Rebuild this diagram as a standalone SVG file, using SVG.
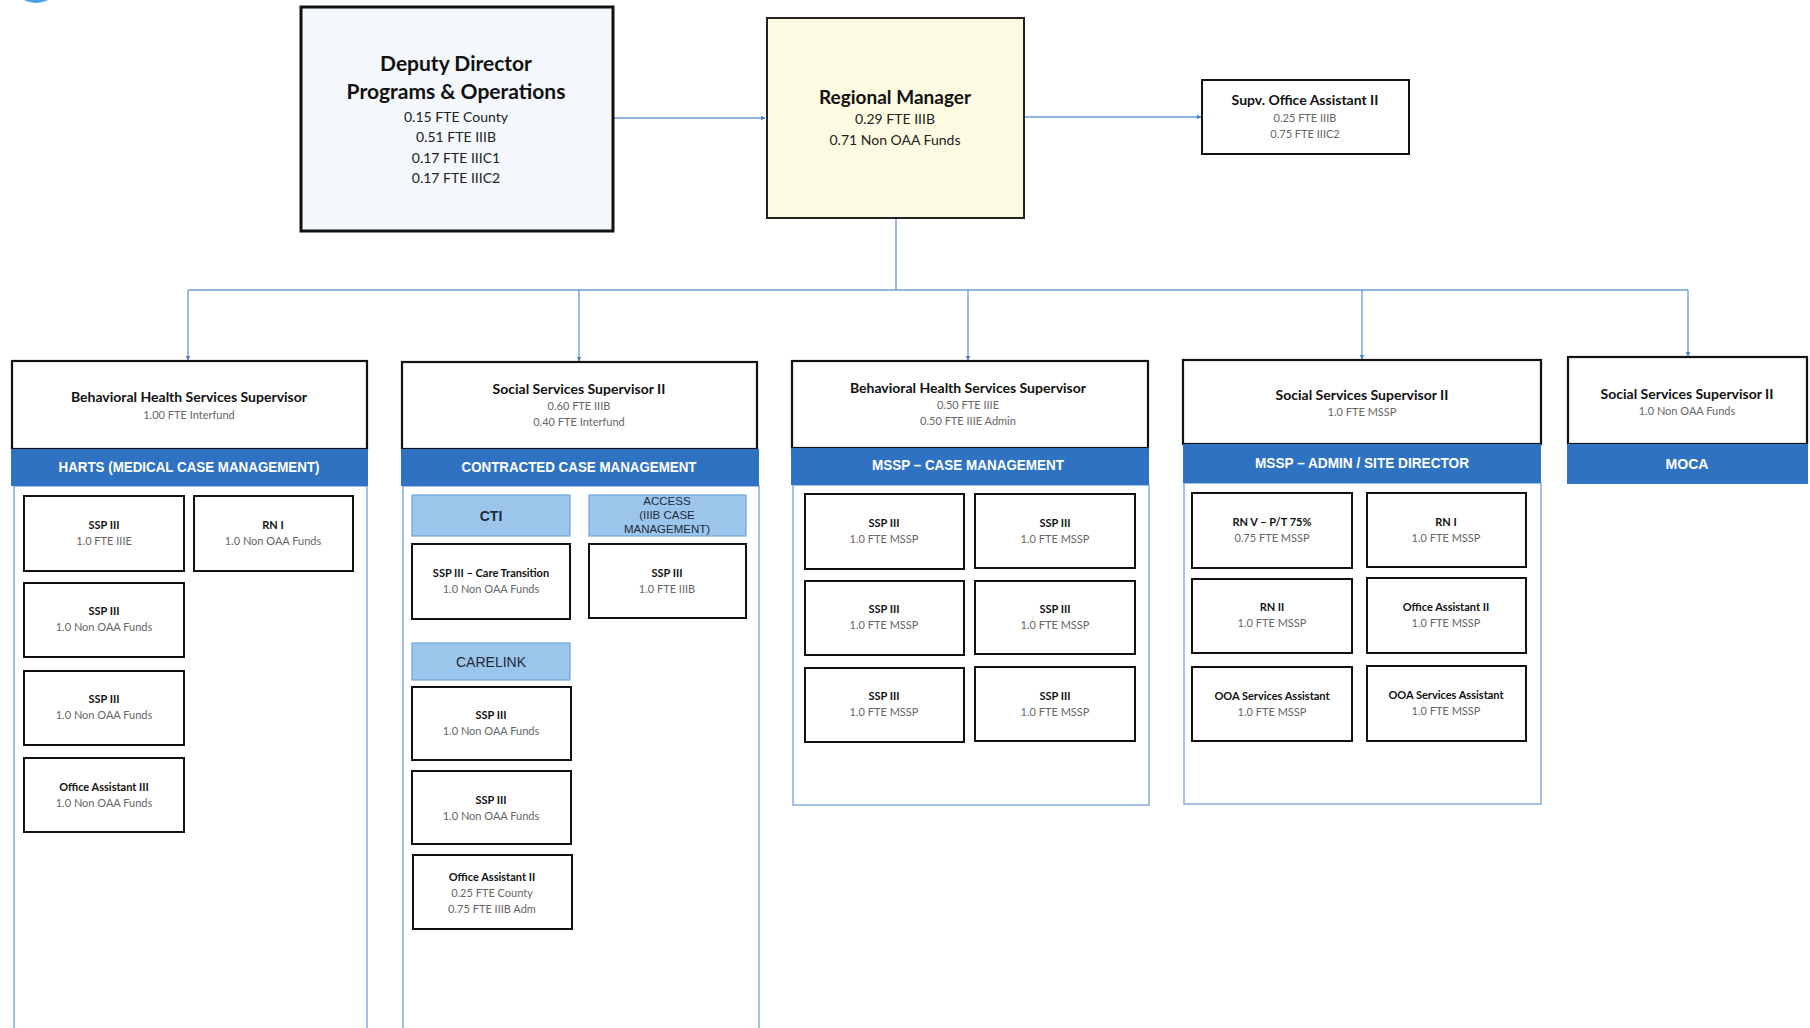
<svg xmlns="http://www.w3.org/2000/svg" width="1810" height="1028" viewBox="0 0 1810 1028">
<defs>
<marker id="ah" viewBox="0 0 10 10" refX="9" refY="5" markerWidth="5" markerHeight="5" orient="auto" markerUnits="userSpaceOnUse">
<path d="M0,0 L10,5 L0,10 z" fill="#4f7fc8"/>
</marker>
<style>
.big{stroke:#111;stroke-width:3}
.sup{fill:#fff;stroke:#111;stroke-width:2.2}
.box{fill:#fff;stroke:#111;stroke-width:2}
.cont{fill:none;stroke:#8eaee0;stroke-width:1.6}
.ban{fill:#2f72c2}
.hdr{fill:#9cc5eb;stroke:#6ea6dc;stroke-width:1.2}
.conn{fill:none;stroke:#6f9ddb;stroke-width:1.4}
text{font-family:Lato,"Open Sans","Liberation Sans",sans-serif;text-anchor:middle}
.t1{font-size:21px;font-weight:bold;fill:#111}
.s1{font-size:14px;fill:#222}
.t2{font-size:14px;font-weight:bold;fill:#111}
.s2{font-size:11px;fill:#666}
.bt{font-family:"Liberation Sans",Arial,sans-serif;font-size:14px;font-weight:bold;fill:#fff}
.ht{font-family:"Liberation Sans",Arial,sans-serif;font-size:14px;fill:#1d2a3a}
.it{font-size:11px;font-weight:bold;fill:#111}
.is{font-size:11px;fill:#666}
</style>
</defs>
<rect width="1810" height="1028" fill="#fff"/>
<ellipse cx="36" cy="-12" rx="20" ry="15" fill="#4c9fe3"/>

<g id="connectors">
<line class="conn" x1="613" y1="118" x2="765" y2="118" marker-end="url(#ah)"/>
<line class="conn" x1="1024" y1="117" x2="1201" y2="117" marker-end="url(#ah)"/>
<polyline class="conn" points="896,218 896,290"/>
<line class="conn" x1="188" y1="290" x2="1688" y2="290"/>
<line class="conn" x1="188" y1="290" x2="188" y2="360" marker-end="url(#ah)"/>
<line class="conn" x1="579" y1="290" x2="579" y2="361" marker-end="url(#ah)"/>
<line class="conn" x1="968" y1="290" x2="968" y2="360" marker-end="url(#ah)"/>
<line class="conn" x1="1362" y1="290" x2="1362" y2="359" marker-end="url(#ah)"/>
<line class="conn" x1="1688" y1="290" x2="1688" y2="356" marker-end="url(#ah)"/>
</g>

<g id="deputy-director">
<rect class="big" x="301" y="7" width="312" height="224" fill="#f4f7fb"/>
<text class="t1" x="456" y="71">Deputy Director</text>
<text class="t1" x="456" y="99">Programs &amp; Operations</text>
<text class="s1" x="456" y="122">0.15 FTE County</text>
<text class="s1" x="456" y="142">0.51 FTE IIIB</text>
<text class="s1" x="456" y="163">0.17 FTE IIIC1</text>
<text class="s1" x="456" y="183">0.17 FTE IIIC2</text>
</g>

<g id="regional-manager">
<rect x="767" y="18" width="257" height="200" fill="#fcfae1" stroke="#222" stroke-width="2"/>
<text x="895" y="104" style="font-size:19px;font-weight:bold;fill:#111">Regional Manager</text>
<text class="s1" x="895" y="124">0.29 FTE IIIB</text>
<text class="s1" x="895" y="145">0.71 Non OAA Funds</text>
</g>

<g id="supv-office-assistant">
<rect x="1202" y="80" width="207" height="74" fill="#fff" stroke="#111" stroke-width="2"/>
<text x="1305" y="105" style="font-size:14px;font-weight:bold;fill:#111">Supv. Office Assistant II</text>
<text class="s2" x="1305" y="122">0.25 FTE IIIB</text>
<text class="s2" x="1305" y="138">0.75 FTE IIIC2</text>
</g>

<!-- Column 1 -->
<g id="col1-harts">
<rect class="cont" x="14" y="486" width="353" height="545"/>
<rect class="sup" x="12" y="361" width="355" height="88"/>
<text class="t2" x="189" y="402">Behavioral Health Services Supervisor</text>
<text class="s2" x="189" y="419">1.00 FTE Interfund</text>
<rect class="ban" x="11" y="449" width="357" height="37"/>
<text class="bt" x="189" y="472" textLength="261" lengthAdjust="spacingAndGlyphs">HARTS (MEDICAL CASE MANAGEMENT)</text>
</g>
<g id="c1-ssp1"><rect class="box" x="24" y="496" width="160" height="75"/><text class="it" x="104" y="529">SSP III</text><text class="is" x="104" y="545">1.0 FTE IIIE</text></g>
<g id="c1-rn1"><rect class="box" x="194" y="496" width="159" height="75"/><text class="it" x="273" y="529">RN I</text><text class="is" x="273" y="545">1.0 Non OAA Funds</text></g>
<g id="c1-ssp2"><rect class="box" x="24" y="583" width="160" height="74"/><text class="it" x="104" y="615">SSP III</text><text class="is" x="104" y="631">1.0 Non OAA Funds</text></g>
<g id="c1-ssp3"><rect class="box" x="24" y="671" width="160" height="74"/><text class="it" x="104" y="703">SSP III</text><text class="is" x="104" y="719">1.0 Non OAA Funds</text></g>
<g id="c1-oa3"><rect class="box" x="24" y="758" width="160" height="74"/><text class="it" x="104" y="791">Office Assistant III</text><text class="is" x="104" y="807">1.0 Non OAA Funds</text></g>

<!-- Column 2 -->
<g id="col2-contracted">
<rect class="cont" x="403" y="486" width="356" height="545"/>
<rect class="sup" x="402" y="362" width="355" height="87"/>
<text class="t2" x="579" y="394">Social Services Supervisor II</text>
<text class="s2" x="579" y="410">0.60 FTE IIIB</text>
<text class="s2" x="579" y="426">0.40 FTE Interfund</text>
<rect class="ban" x="401" y="449" width="358" height="37"/>
<text class="bt" x="579" y="472" textLength="235" lengthAdjust="spacingAndGlyphs">CONTRACTED CASE MANAGEMENT</text>
</g>
<g id="c2-cti"><rect class="hdr" x="412" y="495" width="158" height="41"/><text class="ht" x="491" y="521" style="font-weight:bold">CTI</text></g>
<g id="c2-access"><rect class="hdr" x="589" y="495" width="157" height="41"/>
<text class="ht" x="667" y="505" style="font-size:11.5px">ACCESS</text>
<text class="ht" x="667" y="519" style="font-size:11.5px">(IIIB CASE</text>
<text class="ht" x="667" y="533" style="font-size:11.5px">MANAGEMENT)</text></g>
<g id="c2-ssp-ct"><rect class="box" x="412" y="544" width="158" height="75"/><text class="it" x="491" y="577">SSP III – Care Transition</text><text class="is" x="491" y="593">1.0 Non OAA Funds</text></g>
<g id="c2-ssp-iiib"><rect class="box" x="589" y="544" width="157" height="74"/><text class="it" x="667" y="577">SSP III</text><text class="is" x="667" y="593">1.0 FTE IIIB</text></g>
<g id="c2-carelink"><rect class="hdr" x="412" y="643" width="158" height="37"/><text class="ht" x="491" y="667">CARELINK</text></g>
<g id="c2-ssp1"><rect class="box" x="412" y="687" width="159" height="73"/><text class="it" x="491" y="719">SSP III</text><text class="is" x="491" y="735">1.0 Non OAA Funds</text></g>
<g id="c2-ssp2"><rect class="box" x="412" y="771" width="159" height="73"/><text class="it" x="491" y="804">SSP III</text><text class="is" x="491" y="820">1.0 Non OAA Funds</text></g>
<g id="c2-oa2"><rect class="box" x="413" y="855" width="159" height="74"/><text class="it" x="492" y="881">Office Assistant II</text><text class="is" x="492" y="897">0.25 FTE County</text><text class="is" x="492" y="913">0.75 FTE IIIB Adm</text></g>

<!-- Column 3 -->
<g id="col3-mssp-cm">
<rect class="cont" x="793" y="485" width="356" height="320"/>
<rect class="sup" x="792" y="361" width="356" height="87"/>
<text class="t2" x="968" y="393">Behavioral Health Services Supervisor</text>
<text class="s2" x="968" y="409">0.50 FTE IIIE</text>
<text class="s2" x="968" y="425">0.50 FTE IIIE Admin</text>
<rect class="ban" x="791" y="448" width="358" height="37"/>
<text class="bt" x="968" y="470" textLength="192" lengthAdjust="spacingAndGlyphs">MSSP – CASE MANAGEMENT</text>
</g>
<g id="c3-a"><rect class="box" x="805" y="494" width="159" height="75"/><text class="it" x="884" y="527">SSP III</text><text class="is" x="884" y="543">1.0 FTE MSSP</text></g>
<g id="c3-b"><rect class="box" x="975" y="494" width="160" height="74"/><text class="it" x="1055" y="527">SSP III</text><text class="is" x="1055" y="543">1.0 FTE MSSP</text></g>
<g id="c3-c"><rect class="box" x="805" y="581" width="159" height="74"/><text class="it" x="884" y="613">SSP III</text><text class="is" x="884" y="629">1.0 FTE MSSP</text></g>
<g id="c3-d"><rect class="box" x="975" y="581" width="160" height="73"/><text class="it" x="1055" y="613">SSP III</text><text class="is" x="1055" y="629">1.0 FTE MSSP</text></g>
<g id="c3-e"><rect class="box" x="805" y="668" width="159" height="74"/><text class="it" x="884" y="700">SSP III</text><text class="is" x="884" y="716">1.0 FTE MSSP</text></g>
<g id="c3-f"><rect class="box" x="975" y="667" width="160" height="74"/><text class="it" x="1055" y="700">SSP III</text><text class="is" x="1055" y="716">1.0 FTE MSSP</text></g>

<!-- Column 4 -->
<g id="col4-mssp-admin">
<rect class="cont" x="1184" y="483" width="357" height="321"/>
<rect class="sup" x="1183" y="360" width="358" height="84"/>
<text class="t2" x="1362" y="400">Social Services Supervisor II</text>
<text class="s2" x="1362" y="416">1.0 FTE MSSP</text>
<rect class="ban" x="1183" y="444" width="358" height="39"/>
<text class="bt" x="1362" y="468" textLength="214" lengthAdjust="spacingAndGlyphs">MSSP – ADMIN / SITE DIRECTOR</text>
</g>
<g id="c4-rnv"><rect class="box" x="1192" y="493" width="160" height="75"/><text class="it" x="1272" y="526">RN V – P/T 75%</text><text class="is" x="1272" y="542">0.75 FTE MSSP</text></g>
<g id="c4-rn1"><rect class="box" x="1367" y="493" width="159" height="74"/><text class="it" x="1446" y="526">RN I</text><text class="is" x="1446" y="542">1.0 FTE MSSP</text></g>
<g id="c4-rn2"><rect class="box" x="1192" y="579" width="160" height="74"/><text class="it" x="1272" y="611">RN II</text><text class="is" x="1272" y="627">1.0 FTE MSSP</text></g>
<g id="c4-oa2"><rect class="box" x="1367" y="578" width="159" height="75"/><text class="it" x="1446" y="611">Office Assistant II</text><text class="is" x="1446" y="627">1.0 FTE MSSP</text></g>
<g id="c4-ooa1"><rect class="box" x="1192" y="667" width="160" height="74"/><text class="it" x="1272" y="700">OOA Services Assistant</text><text class="is" x="1272" y="716">1.0 FTE MSSP</text></g>
<g id="c4-ooa2"><rect class="box" x="1367" y="666" width="159" height="75"/><text class="it" x="1446" y="699">OOA Services Assistant</text><text class="is" x="1446" y="715">1.0 FTE MSSP</text></g>

<!-- Column 5 -->
<g id="col5-moca">
<rect class="sup" x="1568" y="357" width="239" height="87"/>
<text class="t2" x="1687" y="399">Social Services Supervisor II</text>
<text class="s2" x="1687" y="415">1.0 Non OAA Funds</text>
<rect class="ban" x="1567" y="444" width="241" height="40"/>
<text class="bt" x="1687" y="469" textLength="43" lengthAdjust="spacingAndGlyphs">MOCA</text>
</g>
</svg>
